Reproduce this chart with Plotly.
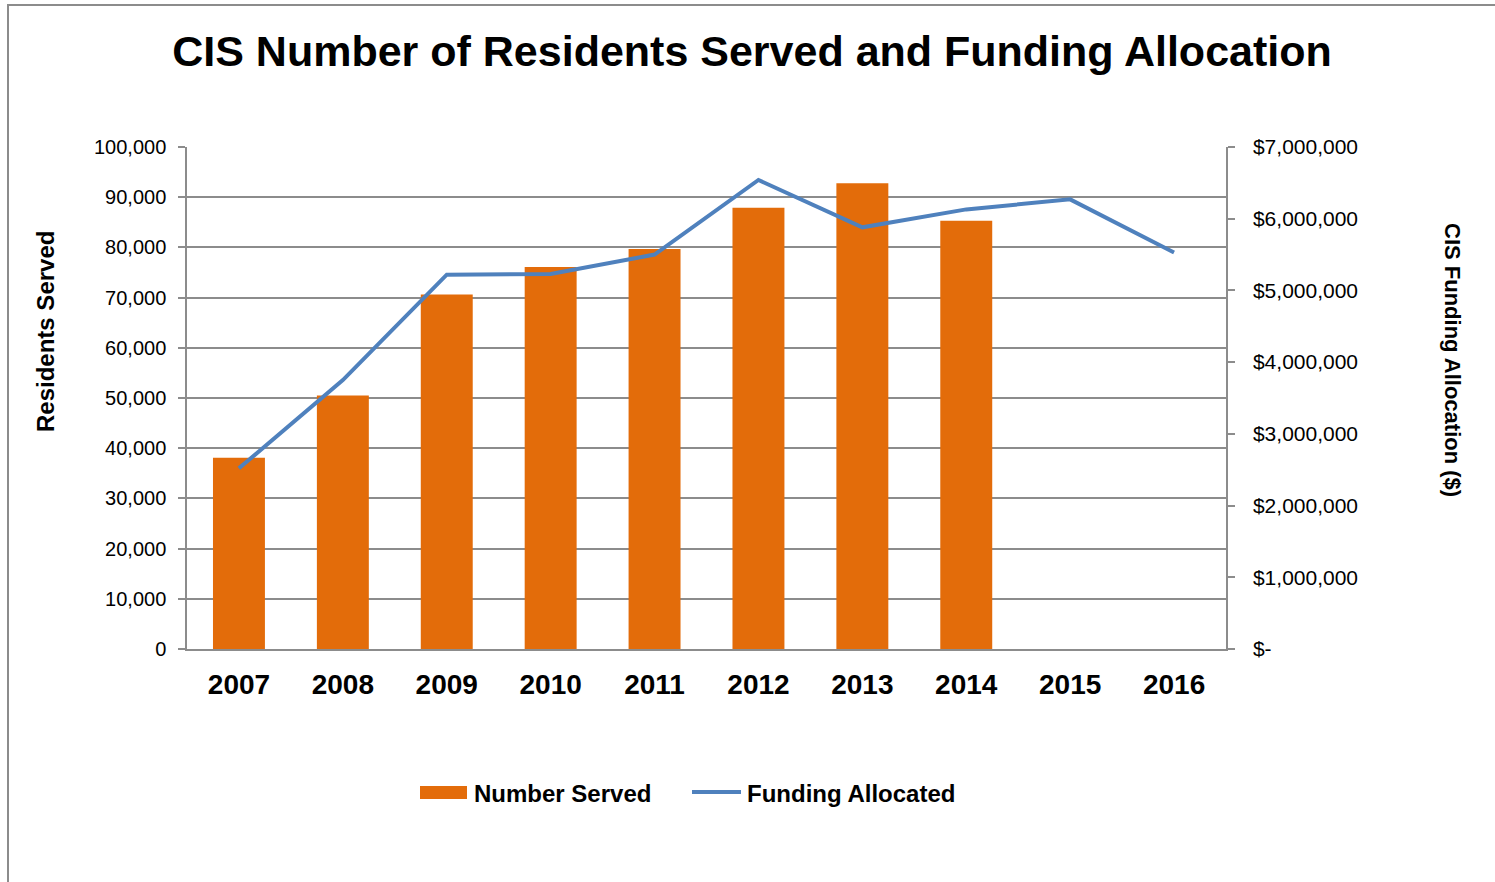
import plotly.graph_objects as go

years = ["2007", "2008", "2009", "2010", "2011", "2012", "2013", "2014", "2015", "2016"]
number_served = [38100, 50500, 70600, 76100, 79700, 87900, 92800, 85300, None, None]
funding_allocated = [2520000, 3750000, 5220000, 5230000, 5500000, 6540000, 5880000, 6130000, 6270000, 5530000]

left_tickvals = [0, 10000, 20000, 30000, 40000, 50000, 60000, 70000, 80000, 90000, 100000]
right_tickvals = [0, 1000000, 2000000, 3000000, 4000000, 5000000, 6000000, 7000000]
right_ticktext = ["$-", "$1,000,000", "$2,000,000", "$3,000,000", "$4,000,000",
                  "$5,000,000", "$6,000,000", "$7,000,000"]

FONT = "Liberation Sans, Arial, sans-serif"
GRID = "#8c8c8c"
BAR_COLOR = "#E36C0A"
LINE_COLOR = "#4F81BD"

# plot area in pixels: x 187..1226, y 147..649
def px(x):
    return (x - 187) / 1039


def py(y):
    return (649 - y) / 502


fig = go.Figure()
fig.add_trace(go.Bar(
    x=years, y=number_served, name="Number Served",
    marker=dict(color=BAR_COLOR, line=dict(width=0)),
    yaxis="y", showlegend=False,
))
fig.add_trace(go.Scatter(
    x=years, y=funding_allocated, name="Funding Allocated",
    mode="lines", line=dict(color=LINE_COLOR, width=4),
    yaxis="y2", showlegend=False,
))

legend_font = dict(family=FONT, size=24, weight="bold", color="#000000")

fig.update_layout(
    width=1495, height=882,
    margin=dict(l=187, r=269, t=147, b=233),
    paper_bgcolor="white", plot_bgcolor="white",
    font=dict(family=FONT, color="#000000"),
    bargap=0.5,
    showlegend=False,
    title=dict(
        text="CIS Number of Residents Served and Funding Allocation",
        x=752 / 1495, xanchor="center", xref="container",
        y=1 - 51 / 882, yanchor="middle", yref="container",
        font=dict(family=FONT, size=43, weight="bold", color="#000000"),
    ),
    xaxis=dict(
        type="category",
        showgrid=False, showline=True, linecolor=GRID, linewidth=1.5,
        ticks="", tickfont=dict(family=FONT, size=28, weight="bold", color="#000000"),
        ticklabelstandoff=10,
    ),
    yaxis=dict(
        range=[0, 100000], tickvals=left_tickvals, tickformat=",",
        showgrid=True, gridcolor=GRID, gridwidth=1.5,
        showline=True, linecolor=GRID, linewidth=1.5,
        ticks="outside", ticklen=7, tickcolor=GRID, tickwidth=1.5,
        tickfont=dict(family=FONT, size=20, color="#000000"),
        ticklabelstandoff=8,
        zeroline=False,
    ),
    yaxis2=dict(
        range=[0, 7000000], overlaying="y", side="right",
        tickvals=right_tickvals, ticktext=right_ticktext,
        showgrid=False, showline=True, linecolor=GRID, linewidth=1.5,
        ticks="outside", ticklen=7, tickcolor=GRID, tickwidth=1.5,
        tickfont=dict(family=FONT, size=21, color="#000000"),
        ticklabelstandoff=14,
        zeroline=False,
    ),
    annotations=[
        dict(text="Residents Served", xref="paper", yref="paper",
             x=px(45), y=py(332),
             textangle=-90, showarrow=False, xanchor="center", yanchor="middle",
             font=dict(family=FONT, size=24, weight="bold", color="#000000")),
        dict(text="CIS Funding Allocation ($)", xref="paper", yref="paper",
             x=px(1453), y=py(360),
             textangle=90, showarrow=False, xanchor="center", yanchor="middle",
             font=dict(family=FONT, size=22, weight="bold", color="#000000")),
        dict(text="Number Served", xref="paper", yref="paper",
             x=px(472), y=py(793), xanchor="left", yanchor="middle",
             showarrow=False, font=legend_font),
        dict(text="Funding Allocated", xref="paper", yref="paper",
             x=px(745), y=py(793), xanchor="left", yanchor="middle",
             showarrow=False, font=legend_font),
    ],
    shapes=[
        dict(type="rect", xref="paper", yref="paper",
             x0=px(8), x1=px(1510), y0=py(900), y1=py(5),
             line=dict(color="#8c8c8c", width=2), fillcolor="rgba(0,0,0,0)", layer="below"),
        dict(type="rect", xref="paper", yref="paper",
             x0=px(420), x1=px(467), y0=py(799), y1=py(786),
             line=dict(width=0), fillcolor=BAR_COLOR),
        dict(type="line", xref="paper", yref="paper",
             x0=px(692), x1=px(741), y0=py(792), y1=py(792),
             line=dict(color=LINE_COLOR, width=4)),
    ],
)

fig.write_html("out.html")
